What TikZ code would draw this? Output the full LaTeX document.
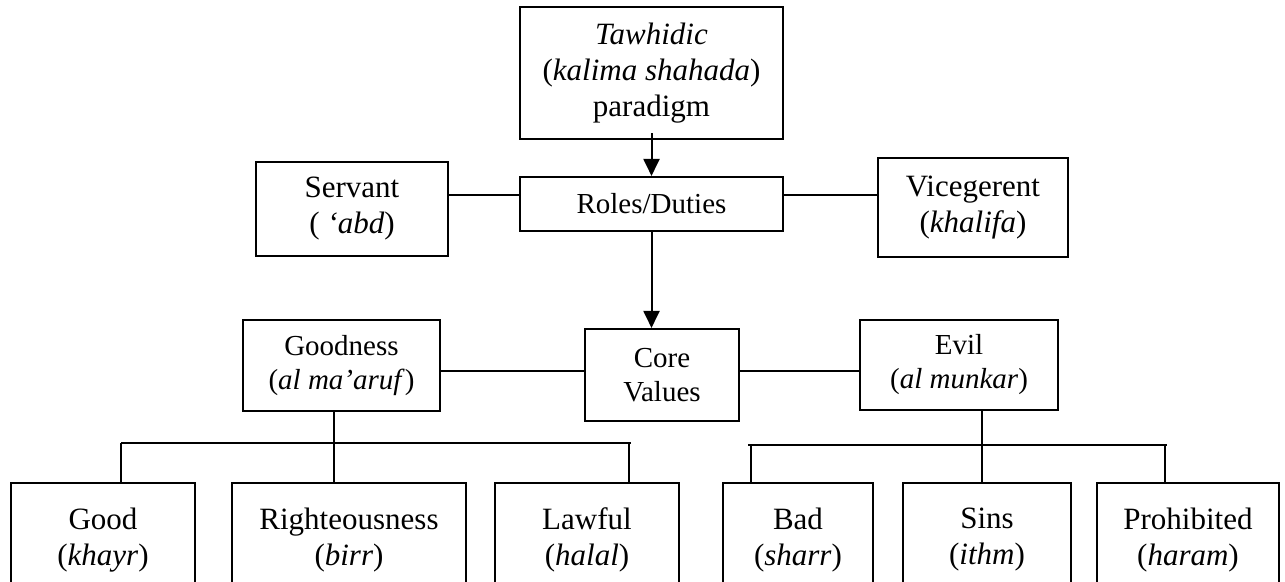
\documentclass[tikz,border=0pt]{standalone}
\usepackage{fontspec}
\setmainfont{Liberation Serif}
\usetikzlibrary{arrows.meta}
\tikzset{
  box/.style={draw, line width=2.1pt, rectangle, inner sep=0pt, align=center},
  bigtxt/.style={font=\fontsize{31}{36}\selectfont},
  smalltxt/.style={font=\fontsize{29}{34}\selectfont},
  conn/.style={line width=2pt},
  arr/.style={line width=2pt, -{Triangle[width=16pt,length=17pt]}},
}
\begin{document}
\begin{tikzpicture}[x=1pt,y=-1pt]
\useasboundingbox (0,0) rectangle (1285,581);
\clip (0,0) rectangle (1285,581);
\fill[white] (0,0) rectangle (1285,581);
% top level
\node[box,bigtxt,minimum width=263,minimum height=132] (top) at (651.5,73) {\textit{Tawhidic}\\(\textit{kalima shahada})\\paradigm};
\node[box,smalltxt,minimum width=263,minimum height=54] (roles) at (651.5,204) {Roles/Duties};
\node[box,bigtxt,minimum width=192,minimum height=94] (servant) at (352,209) {Servant\\( \textit{‘abd})};
\node[box,bigtxt,minimum width=190,minimum height=99] (vice) at (973,207.5) {Vicegerent\\(\textit{khalifa})};
% middle level
\node[box,smalltxt,minimum width=197,minimum height=91] (good) at (341.5,365.5) {Goodness\\(\textit{al ma’aruf})};
\node[box,smalltxt,minimum width=154,minimum height=92] (core) at (662,375) {Core\\Values};
\node[box,smalltxt,minimum width=198,minimum height=90] (evil) at (959,365) {Evil\\(\textit{al munkar})};
% bottom level
\node[box,bigtxt,minimum width=184,minimum height=114] (g1) at (103,540) {Good\\(\textit{khayr})};
\node[box,bigtxt,minimum width=234,minimum height=114] (righ) at (349,540) {Righteousness\\(\textit{birr})};
\node[box,bigtxt,minimum width=184,minimum height=114] (lawful) at (587,540) {Lawful\\(\textit{halal})};
\node[box,bigtxt,minimum width=150,minimum height=114] (bad) at (798,540) {Bad\\(\textit{sharr})};
\node[box,bigtxt,minimum width=168,minimum height=114] (sins) at (987,540) {Sins\\(\textit{ithm})};
\node[box,bigtxt,minimum width=182,minimum height=114] (prohib) at (1188,540) {Prohibited\\(\textit{haram})};
% connectors, upper part
\coordinate (rl) at (0,195);
\draw[conn] (servant.east |- rl) -- (roles.west |- rl);
\draw[conn] (roles.east |- rl) -- (vice.west |- rl);
\draw[arr] ([yshift=7pt]top.south) -- (roles.north);
\draw[arr] (roles.south) -- (roles.south |- core.north);
\coordinate (cl) at (0,371);
\draw[conn] (good.east |- cl) -- (core.west |- cl);
\draw[conn] (core.east |- cl) -- (evil.west |- cl);
% left bus
\coordinate (lb1) at (121,443);
\coordinate (lb2) at (631,443);
\draw[conn] (lb1) -- (lb2);
\draw[conn] (lb1) -- (lb1 |- g1.north);
\draw[conn] ([xshift=-2pt]lb2) -- ([xshift=-2pt]lb2 |- lawful.north);
\draw[conn] ([xshift=-7.5pt]good.south) -- ([xshift=-7.5pt]good.south |- righ.north);
% right bus
\coordinate (rb1) at (748,445);
\coordinate (rb2) at (1167,445);
\draw[conn] (rb1) -- (rb2);
\draw[conn] ([xshift=3pt]rb1) -- ([xshift=3pt]rb1 |- bad.north);
\draw[conn] ([xshift=-2pt]rb2) -- ([xshift=-2pt]rb2 |- prohib.north);
\draw[conn] ([xshift=23pt]evil.south) -- ([xshift=23pt]evil.south |- sins.north);
\end{tikzpicture}
\end{document}
